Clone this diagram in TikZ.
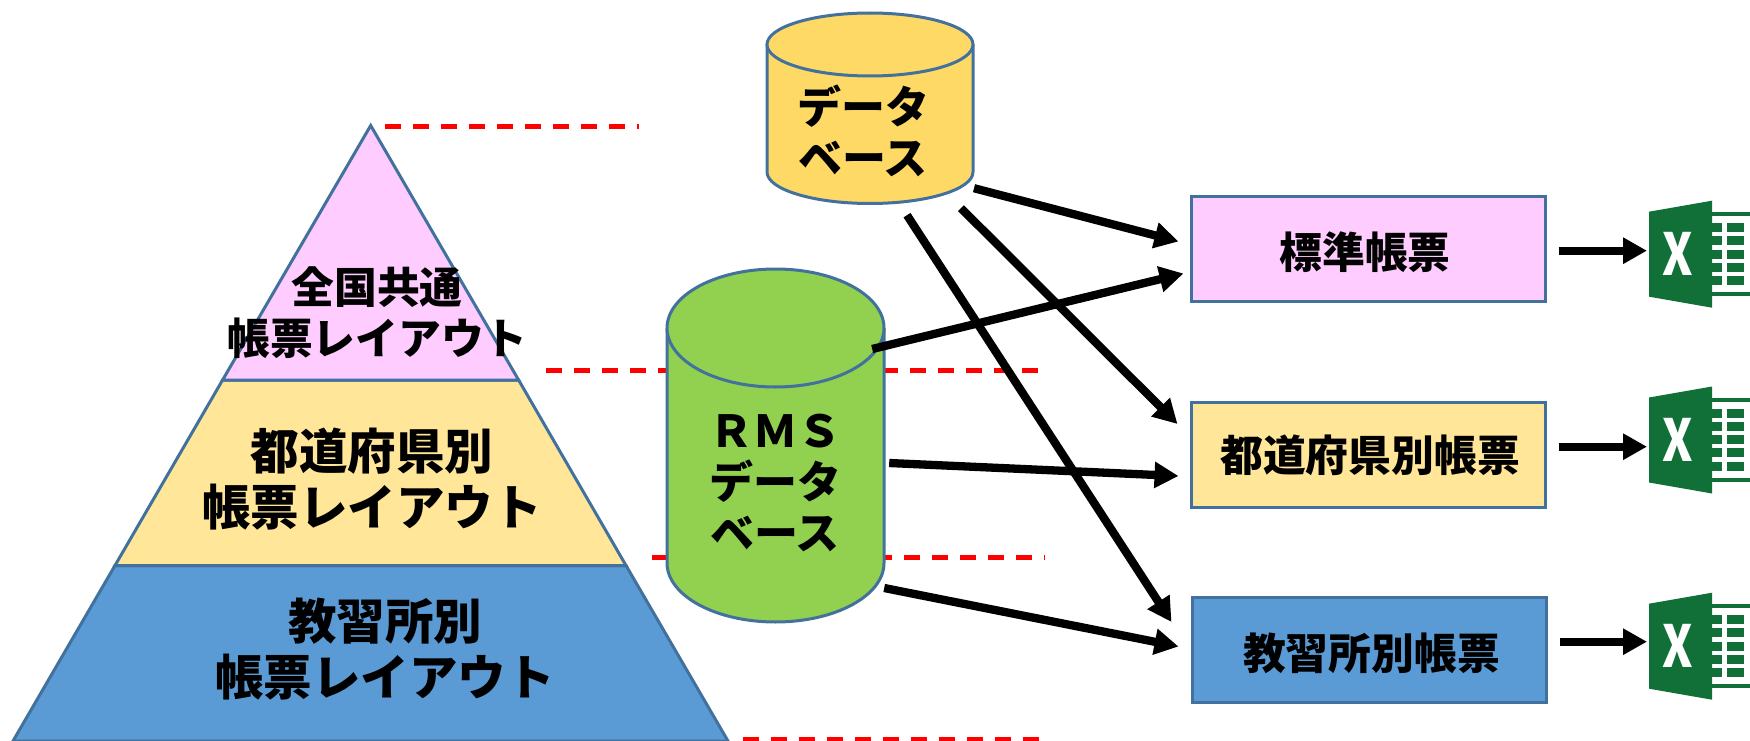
\documentclass[tikz,border=0pt]{standalone}
\usepackage{fontspec}
\setmainfont{Noto Sans CJK JP}
\usetikzlibrary{arrows.meta}
\definecolor{edgeblue}{HTML}{41719C}
\definecolor{layerpink}{HTML}{FFCCFF}
\definecolor{layersand}{HTML}{FFE699}
\definecolor{layerblue}{HTML}{5B9BD5}
\definecolor{dbyellow}{HTML}{FFD966}
\definecolor{dbgreen}{HTML}{92D050}
\definecolor{xlgreen}{HTML}{107038}
\tikzset{
    shape edge/.style = {draw = edgeblue, line width = 3pt},
    level line/.style = {red, line width = 5pt, dash pattern = on 16pt off 12pt},
    flow/.style = {line width = 8.3pt, -{Triangle[length = 24pt, width = 25pt]}},
    big text/.style = {font = \fontsize{48.5}{56}\selectfont\bfseries, align = center, inner sep = 0pt},
    small text/.style = {font = \fontsize{42.8}{51}\selectfont\bfseries, align = center, inner sep = 0pt},
    db text/.style = {font = \fontsize{44}{51}\selectfont\bfseries, align = center, inner sep = 0pt},
    report box/.style = {shape edge, minimum width = 354pt, minimum height = 105pt},
    db box/.style = {inner sep = 0pt},
    excel icon/.pic = {
        \fill [xlgreen] (2,-39) -- (65,-50) -- (65,57) -- (2,46) -- cycle;
        \fill [xlgreen] (65,-38.7) rectangle (103,-34.7);
        \fill [xlgreen] (65,41.3) rectangle (103,45.3);
        \foreach \row in {-27.7,-14.4,-1.2,11.9,25.1} {
            \fill [xlgreen] (65,\row) rectangle (75,\row+9);
            \fill [xlgreen] (80,\row) rectangle (97,\row+9);
        }
        \node [white, xscale = .8, inner sep = 0pt, font = \fontsize{58}{58}\selectfont\bfseries] (letter) at (31,3) {X};
    }
}
\begin{document}
\begin{tikzpicture}[x = 1pt, y = -1pt]
    \useasboundingbox (0,0) rectangle (1750,741);
    % Dashed level lines
    \draw [level line] (385,126.3) -- (639,126.3);
    \draw [level line] (546,370) -- (1038,370);
    \draw [level line] (652,557) -- (1045,557);
    \draw [level line] (743,739.5) -- (1039,739.5);
    % Pyramid
    \draw [shape edge, fill = layerblue] (115,565.5) -- (626,565.5) -- (728,741) -- (13,741) -- cycle;
    \draw [shape edge, fill = layersand] (222.6,380) -- (518.6,380) -- (626,565.5) -- (115,565.5) -- cycle;
    \draw [shape edge, fill = layerpink] (370.7,125.5) -- (518.6,380) -- (222.6,380) -- cycle;
    \node [small text] (commonLabel) at (377,313) {全国共通\\帳票レイアウト};
    \node [big text] (prefLabel) at (372,479) {都道府県別\\帳票レイアウト};
    \node [big text] (schoolLabel) at (385,649.5) {教習所別\\帳票レイアウト};
    % Cylinders
    \draw [shape edge, fill = dbyellow] (767,44.5) -- (767,172) arc [start angle = 180, end angle = 0, x radius = 103, y radius = 31.5] -- (973,44.5);
    \draw [shape edge, fill = dbyellow] (870,44.5) ellipse [x radius = 103, y radius = 31.5];
    \draw [shape edge, fill = dbgreen] (667,328) -- (667,563) arc [start angle = 180, end angle = 0, x radius = 108.5, y radius = 59] -- (884,328);
    \draw [shape edge, fill = dbgreen] (775.5,328) ellipse [x radius = 108.5, y radius = 59];
    \node [db box, minimum width = 206pt, minimum height = 190pt] (mainDb) at (870,108) {};
    \node [db box, minimum width = 217pt, minimum height = 354pt] (rmsDb) at (775.5,445) {};
    \node [db text] (mainLabel) at (863,131) {データ\\ベース};
    \node [db text] (rmsLabel) at (775,482.5) {ＲＭＳ\\データ\\ベース};
    % Report boxes
    \node [report box, fill = layerpink] (stdBox) at (1368,248.5) {};
    \node [report box, fill = layersand] (prefBox) at (1368,454.5) {};
    \node [report box, fill = layerblue] (schoolBox) at (1369,649.5) {};
    \node [small text] (stdLabel) at (1365,252) {標準帳票};
    \node [small text] (prefBoxLabel) at (1370,455.5) {都道府県別帳票};
    \node [small text] (schoolBoxLabel) at (1371.5,653.5) {教習所別帳票};
    % Arrows from the databases
    \draw [flow] ([shift = {(104,-15)}]mainDb.south) -- ([shift = {(-11,-7)}]stdBox.west);
    \draw [flow] ([shift = {(91,5)}]mainDb.south) -- ([shift = {(-12,-30.5)}]prefBox.west);
    \draw [flow] ([shift = {(37,12)}]mainDb.south) -- ([shift = {(-19,-27.5)}]schoolBox.west);
    \draw [flow] ([shift = {(-12,-96)}]rmsDb.east) -- ([shift = {(-6,25)}]stdBox.west);
    \draw [flow] ([shift = {(5,18)}]rmsDb.east) -- ([shift = {(-11,21.5)}]prefBox.west);
    \draw [flow] ([shift = {(0,143)}]rmsDb.east) -- ([shift = {(-12,-3)}]schoolBox.west);
    % Excel icons
    \coordinate (stdIcon) at (1647,250.7);
    \coordinate (prefIcon) at (1647,446.7);
    \coordinate (schoolIcon) at (1647,641.7);
    \pic (stdXl) at (stdIcon) {excel icon};
    \pic (prefXl) at (1647,436.5) {excel icon};
    \pic (schoolXl) at (1647,642.7) {excel icon};
    \draw [flow, shorten <= 12pt] (stdBox.east |- stdIcon) -- (stdIcon);
    \draw [flow, shorten <= 12pt] (prefBox.east |- prefIcon) -- (prefIcon);
    \draw [flow, shorten <= 12pt] (schoolBox.east |- schoolIcon) -- (schoolIcon);
\end{tikzpicture}
\end{document}
